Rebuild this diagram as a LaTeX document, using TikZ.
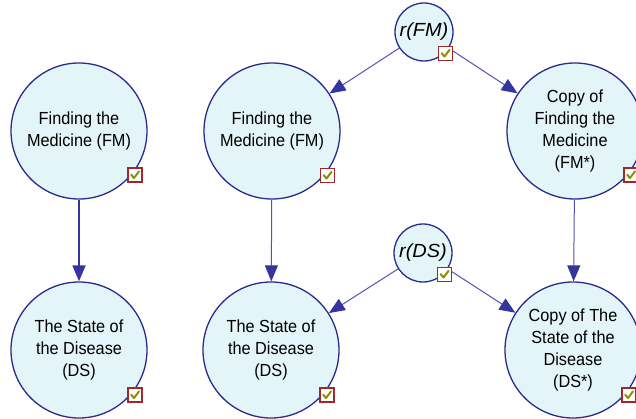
\documentclass[tikz,border=0pt]{standalone}
\usepackage{fontspec}
\setmainfont[FakeStretch=0.93]{Liberation Sans}
\newfontfamily\rvarfont[FakeStretch=1.05]{Liberation Sans}
\usetikzlibrary{arrows.meta}
\definecolor{nodefill}{HTML}{E3F5F8}
\definecolor{nodeline}{HTML}{2B2B8F}
\definecolor{edgeline}{HTML}{5252B4}
\definecolor{edgehead}{HTML}{3535A0}
\definecolor{boxred}{HTML}{A02828}
\definecolor{tickgreen}{HTML}{8A9200}
\tikzset{
  bignode/.style={circle, draw=nodeline, fill=nodefill, line width=1.3pt,
    minimum size=136pt, inner sep=0pt, align=center,
    font=\fontsize{17.5}{22}\selectfont},
  smallnode/.style={circle, draw=nodeline, fill=nodefill, line width=1.3pt,
    minimum size=58pt, inner sep=0pt,
    font=\rvarfont\fontsize{19}{22}\selectfont\itshape},
  edge/.style={draw=edgeline, line width=1pt,
    -{Triangle[length=16pt,width=13pt,color=edgehead,fill=edgehead]}},
  boldedge/.style={edge, draw=edgehead, line width=1.8pt},
  tickbox/.style={rectangle, draw=boxred, fill=white, line width=1.3pt,
    minimum size=14pt, inner sep=0pt,
    path picture={
      \draw[tickgreen, line width=2pt, line cap=round, line join=round]
        ([shift={(-3.8pt,0.3pt)}]path picture bounding box.center)
        -- ([shift={(-1pt,-3pt)}]path picture bounding box.center)
        -- ([shift={(4pt,3.6pt)}]path picture bounding box.center);
    }},
}
\begin{document}
\begin{tikzpicture}[x=1pt, y=-1pt]
  \useasboundingbox (0,0) rectangle (636,419);

  % left pair
  \node[bignode] (fmA) at (79,131) {Finding the\\Medicine (FM)};
  \node[bignode] (dsA) at (79,350) {The State of\\the Disease\\(DS)};

  % middle pair
  \node[bignode] (fmB) at (272,131) {Finding the\\Medicine (FM)};
  \node[bignode] (dsB) at (271,350) {The State of\\the Disease\\(DS)};

  % copies
  \node[bignode] (fmC) at (575,131) {Copy of\\Finding the\\Medicine\\(FM*)};
  \node[bignode] (dsC) at (573,350) {Copy of The\\State of the\\Disease\\(DS*)};

  % random nodes
  \node[smallnode] (rfm) at (424,32) {r(FM)};
  \node[smallnode] (rds) at (423,253) {r(DS)};

  % connectors
  \draw[boldedge] (fmA) -- (dsA);
  \draw[edge] (fmB) -- (dsB);
  \draw[edge] (fmC) -- (dsC);
  \draw[edge] (rfm) -- (fmB);
  \draw[edge] (rfm) -- (fmC);
  \draw[edge] (rds) -- (dsB);
  \draw[edge] (rds) -- (dsC);

  % check boxes
  \node[tickbox, shift={(56,44)}] (fmAck) at (fmA.center) {};
  \node[tickbox, shift={(56,45)}] (dsAck) at (dsA.center) {};
  \node[tickbox, shift={(55.5,44.5)}] (fmBck) at (fmB.center) {};
  \node[tickbox, shift={(56,45)}] (dsBck) at (dsB.center) {};
  \node[tickbox, shift={(56,44)}] (fmCck) at (fmC.center) {};
  \node[tickbox, shift={(56,45)}] (dsCck) at (dsC.center) {};
  \node[tickbox, shift={(21.5,21.5)}] (rfmck) at (rfm.center) {};
  \node[tickbox, shift={(21.5,21.5)}] (rdsck) at (rds.center) {};
\end{tikzpicture}
\end{document}
